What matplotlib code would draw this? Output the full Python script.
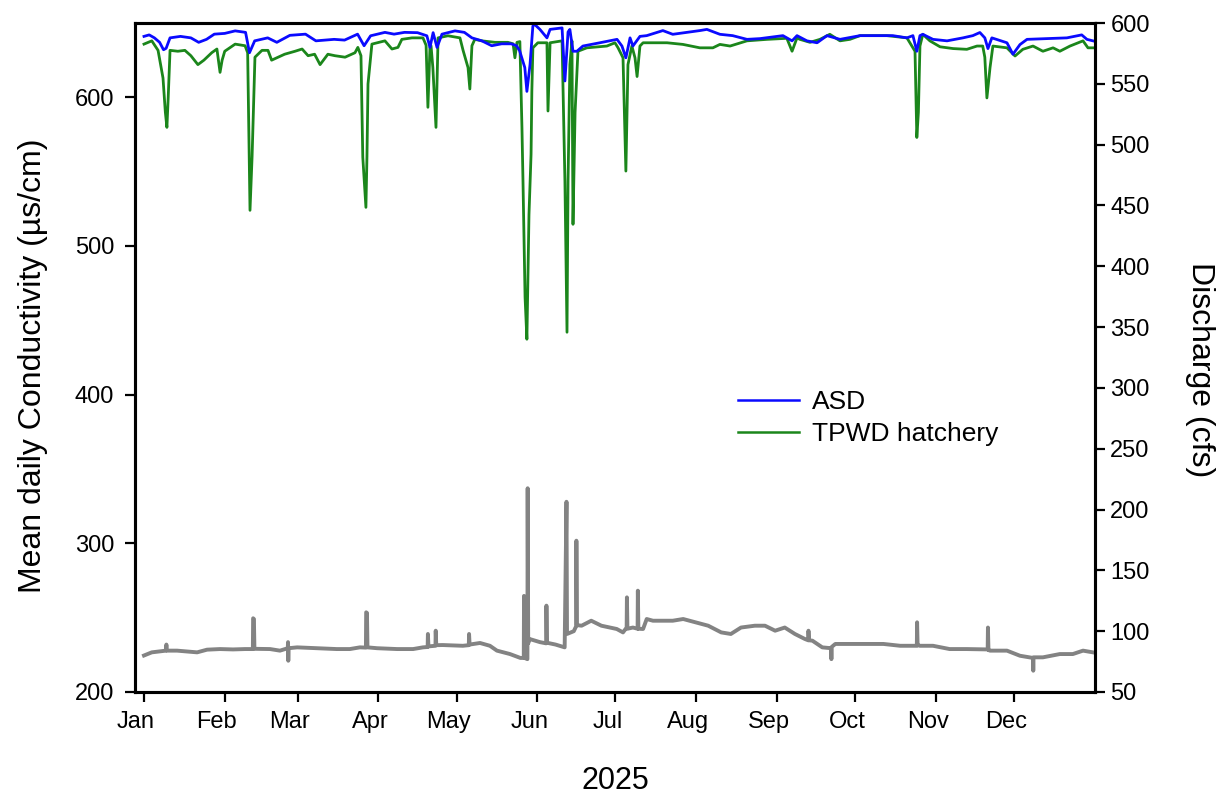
import matplotlib
matplotlib.use("Agg")
import matplotlib.pyplot as plt
import matplotlib.dates as mdates
import matplotlib.transforms as mtransforms
import numpy as np
import datetime as dt

plt.rcParams['font.family'] = ['Liberation Sans', 'DejaVu Sans']

# ---- data (day offset from 2025-01-01, value) ----
asd_day = [0, 2, 4, 6, 7.5, 8.5, 10, 14, 18, 21, 24, 27, 31, 35, 39, 40.5, 42.5, 47.5, 51, 56, 62, 66,
           73, 77, 82, 84.5, 87, 92.5, 96, 100, 105, 108.6, 109.8, 111, 112.5, 114.4, 119.4, 123, 125.9,
           129.7, 133.5, 137.3, 141, 143, 144.2, 146.2, 147, 148.2, 149.3, 150, 152, 154.7, 155.9, 160.5,
           161.6, 162.8, 163.5, 164.7, 166.2, 168.5, 175, 181.6, 183.5, 185, 186.6, 187.7, 190.4, 193,
           199.2, 203, 213.4, 216.1, 221.1, 226, 231.5, 236.5, 245.3, 248.8, 250.7, 254.5, 258.4, 262.2,
           267.2, 274.9, 282.5, 287.5, 292.9, 295.2, 296.7, 297.9, 299, 302.9, 308.3, 314.4, 318.2, 320.9,
           322.8, 324, 325.5, 331.3, 333.6, 336.3, 339, 346.6, 354.3, 360, 362, 364.3]
asd_cond = [641, 642, 640, 637, 632, 633, 640, 641, 640, 637, 639, 642.5, 643, 644.7, 643.7, 630, 638, 640,
            637, 641.7, 642.5, 638,
            639, 638.5, 642.5, 634.7, 641.4, 643.7, 642.5, 643.7, 643.5, 641.4, 633.6, 643.5, 633.6, 642.5,
            644.7, 643.7, 640, 638, 634.7, 636, 636, 634.7, 631.4, 620, 604, 622, 648, 649, 645.7, 640, 645.7,
            646.7, 611, 644, 645.7, 631, 631, 634.5, 636.7, 639, 634.5, 626.6, 640, 634.5, 641, 641.5,
            644.9, 642.4, 644.9, 645.7, 642.4, 641.5, 639, 639.5, 641.5, 638, 641.5, 638, 636.7, 641.5,
            639, 641.5, 641.5, 641.5, 640, 641.5, 631, 641.5, 642.4, 639, 638, 640, 641.5, 643.6,
            640, 632.8, 640, 636.7, 629, 635.5, 639, 639.5, 640, 642, 639, 638]

tpwd_day = [0, 3, 5.4, 7.3, 8.2, 8.8, 9.3, 10, 13, 15.7, 18, 20.7, 23, 26, 28, 29.2, 30, 31, 35, 38.8, 39.8,
            40.7, 41.5, 42.6, 45.3, 47.6, 49, 54, 58, 60.7, 63, 65.5, 67.6, 70.6, 73.3,
            77.2, 81, 82.1, 83.3, 84, 85.2, 85.6, 86, 87.5, 92.5, 95.2, 97.5, 99, 102.9, 107.1, 108.3, 109,
            109.8, 110.2, 110.9, 112.1, 112.9, 116.7, 121.3, 122.5, 124.4, 125.1, 125.9, 127, 129.7, 134.7,
            139.7, 141.7, 142.4, 143.2, 144.3, 145.1, 145.5, 146.3, 147, 147.8, 148.6, 148.9, 149.3, 151.2,
            154.7, 155.1, 155.9, 160.5, 161.6, 162.4, 162.8, 163.5, 164.3, 164.7, 165.5, 166.6, 170, 177.7,
            180.8, 182, 183.9, 185, 185.8, 187.3, 188.5, 189.3, 190.4, 191.6, 200.8, 206.9, 213.4, 218.4,
            221.1, 225, 231.5, 239.2, 246.8, 248.8, 250.7,
            251.8, 255.7, 259.5, 263.3, 267.2, 271, 274.9, 285.2, 292.9, 296, 296.7, 297.3, 297.9, 299,
            301.7, 305.6, 310.6, 315.9, 319.8, 322, 322.8, 323.6, 324.8, 325.9, 331.3, 334.4, 337.4, 341.3,
            345.1, 349, 351.6, 355.5, 360.5, 362.4, 364.3]
tpwd_cond = [635.8, 638, 631.6, 613, 590, 579.8, 600, 631.6, 631, 631.6, 628, 622, 625, 630, 632.5, 616.8,
             625, 631, 635.8, 634.7, 630, 524, 560, 627, 631.6, 631.6, 625, 629, 631, 632.5, 628, 629, 622,
             629, 628,
             627, 630, 633.6, 628, 559.7, 526, 560, 609, 635.8, 638, 632.5, 633.6, 639, 640, 640, 635, 593.3,
             634, 634.7, 620, 579.8, 640, 641.4, 640, 631.6, 620, 605.6, 634.7, 639, 638, 637,
             637, 636, 626.6, 637, 637.5, 579.8, 543.7, 465.5, 437.3, 521, 561.7, 604, 633.3, 636.7,
             636.7, 590.8, 636.7, 638, 543.7, 442, 543.7, 622, 638, 514.6, 590, 631, 633.3, 634.5,
             636.7, 633.3, 626.6, 550.4, 622, 634.5, 626.6, 614, 634.5, 636.7, 636.7, 635.6, 633.3, 633.3,
             635.6, 634.5, 638, 639, 639.7, 631, 640,
             639, 637, 639, 642.4, 638, 639, 641.5, 641.5, 640, 631, 573, 590, 634.5, 642.4,
             638, 634, 632.8, 632.3, 634.5, 634.5, 627, 599.6, 620, 634.5, 633.3, 627.8, 632.3, 634.5,
             631, 633.3, 631, 634.5, 638, 633.3, 633.3]

flow_day = [0, 3, 8.4, 8.6, 8.8, 12.7, 20.4, 24.2, 29.2, 34.2, 38.8, 41.8, 41.9, 42.2, 42.4, 48.4, 52.2,
            55.2, 55.3, 55.4, 55.5, 58.8, 66.4, 74, 79, 82.9, 85.2, 85.3, 85.6, 85.8, 89.5, 97.2, 103.3,
            107.1, 108.9, 109, 109.2, 111.9, 112, 112.2, 114.7, 122.4, 124.7, 124.8, 125, 129, 132.8,
            135.5, 140.5, 144.5, 145.8, 145.9, 146.1, 147.2, 147.3, 147.5, 148, 152, 154.4, 154.5, 154.7,
            158, 161.5, 162.2, 162.4, 165, 165.9, 166, 166.2, 168, 171.7, 175.6, 181.5, 183.9, 185.3,
            185.4, 185.6, 187.7, 189.5, 189.6, 189.8, 191.6, 193, 195.4, 203, 207, 211.7, 216.6, 221.6,
            225.3, 229.2, 234.5, 238.4, 242.3, 246, 249.9, 253.7, 255, 255.1, 255.3, 256.6, 260.4, 263.8,
            263.9, 264, 265.4, 267.2, 277.5, 283.9, 290.3, 296.7, 296.8, 297, 297.9, 302.9, 309.3, 315.9,
            323.9, 324, 324.2, 324.8, 331.3, 336.3, 340.1, 341.3, 341.4, 341.5, 345.1, 351.6, 356.6,
            360.5, 364.3]
flow_cfs = [80, 82.6, 84, 89, 84, 84, 82.6, 84.8, 85.3, 85, 85.3, 85.3, 110.6, 110, 85.5, 85.3, 84,
            86, 91, 75.7, 86, 86.7, 86, 85.3, 85.3, 86.7, 86.5, 115.5, 115, 86.7, 86, 85.3, 85.3,
            86.7, 87, 97.7, 87.5, 88, 100.4, 88.5, 88.6, 88, 88.5, 97.7, 89, 90.3, 88,
            84, 81.2, 78, 78, 129, 78, 77, 217.5, 90, 93.6, 91, 90, 121, 90.5,
            89, 86.7, 206.4, 97.7, 100, 104, 174.4, 105, 104.5, 108.6, 104.5, 101.8, 99, 103,
            127.8, 102, 103, 102, 133.3, 102, 101.8, 110, 108.6, 108.6, 110, 107.3, 104.5, 99,
            97.7, 103, 104.5, 104.5, 100.4, 103, 97.7, 93.6, 92.5, 100.4, 92.5, 92.2, 86.7, 86,
            77, 87, 89.5, 89.5, 89.5, 89.5, 88, 88, 107.3, 88.5, 88, 88, 85.3, 85.3,
            85, 103, 84.5, 84, 84, 79.8, 78.5, 78, 67.5, 78.5, 78.5, 81.2, 81.2,
            84, 82.6]

month_labels = ['Jan', 'Feb', 'Mar', 'Apr', 'May', 'Jun', 'Jul', 'Aug', 'Sep', 'Oct', 'Nov', 'Dec']
left_ticks = [200, 300, 400, 500, 600]
right_ticks = list(range(50, 601, 50))

# ---- figure ----
W, H, DPI = 1222, 799, 100
fig = plt.figure(figsize=(W / DPI, H / DPI), dpi=DPI)
ax = fig.add_axes([135 / W, 1 - 692 / H, (1095 - 135) / W, (692 - 23) / H])
ax2 = ax.twinx()

base = mdates.date2num(dt.datetime(2025, 1, 1))
to_x = lambda d: base + np.asarray(d, dtype=float)

ax.plot(to_x(asd_day), asd_cond, color='#0a0aff', lw=2.0, label='ASD', zorder=3)
ax.plot(to_x(tpwd_day), tpwd_cond, color='#1b861b', lw=2.0, label='TPWD hatchery', zorder=2)
ax2.plot(to_x(flow_day), flow_cfs, color='#838383', lw=2.8, zorder=2)

ax.set_xlim(base - 3.45, base + 365.1)
ax.set_ylim(200, 650)
ax2.set_ylim(50, 600)

month_pos = [mdates.date2num(dt.datetime(2025, m, 1)) for m in range(1, 13)]
ax.set_xticks(month_pos)
ax.set_xticklabels(month_labels)
ax.set_yticks(left_ticks)
ax2.set_yticks(right_ticks)

for a in (ax, ax2):
    for s in a.spines.values():
        s.set_linewidth(2.2)
        s.set_color('black')

ax.tick_params(axis='x', direction='out', length=7, width=1.6, labelsize=17, pad=7)
ax.tick_params(axis='y', direction='out', length=7, width=1.6, labelsize=17, pad=8)
ax2.tick_params(axis='y', direction='out', length=7, width=1.6, labelsize=17, pad=4)

shift = mtransforms.ScaledTranslation(-8 / DPI, 0, fig.dpi_scale_trans)
for lab in ax.get_xticklabels():
    lab.set_transform(lab.get_transform() + shift)

fig.text(33 / W, 1 - 366 / H, 'Mean daily Conductivity (µs/cm)', rotation=90,
         ha='center', va='center', fontsize=23)
fig.text(1200 / W, 1 - 370 / H, 'Discharge (cfs)', rotation=270,
         ha='center', va='center', fontsize=23)
fig.text(615 / W, 1 - 781 / H, '2025', ha='center', va='center', fontsize=22)

leg = ax.legend(loc='upper left', bbox_to_anchor=(738 / W, 1 - 390 / H),
                bbox_transform=fig.transFigure, frameon=False, fontsize=19,
                handlelength=2.3, handletextpad=0.5, labelspacing=0.3, borderpad=0,
                borderaxespad=0)
for h in leg.get_lines():
    h.set_linewidth(1.8)

fig.savefig('out.png', dpi=DPI)
